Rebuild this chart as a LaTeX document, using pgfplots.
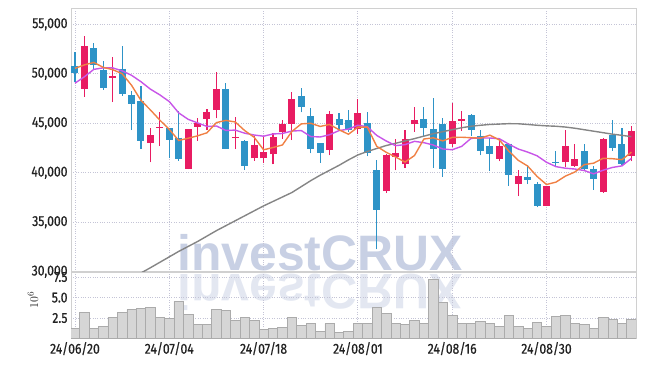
\documentclass[border=0pt]{standalone}
\usepackage{pgfplots}
\pgfplotsset{compat=1.18}
\usepackage{fontspec}
\setmainfont{Fira Sans}[FakeStretch=0.85]
\newfontfamily\tickfont{Fira Sans}[FakeStretch=0.84, FakeBold=0.6]
\newfontfamily\wmfont{Liberation Sans}
\definecolor{cup}{HTML}{E81C62}
\definecolor{cdn}{HTML}{2E93C7}
\definecolor{maf}{HTML}{F08044}
\definecolor{mat}{HTML}{C855E8}
\definecolor{mas}{HTML}{858585}
\definecolor{gridc}{HTML}{C4C4D6}
\definecolor{framec}{HTML}{D0D0D0}
\definecolor{volf}{HTML}{D6D6D6}
\definecolor{vole}{HTML}{ABABAB}
\definecolor{wm}{HTML}{C8D0E4}
\definecolor{tickc}{HTML}{222222}
\newcommand{\cdl}[6]{%
  \addplot[#6, line width=1.1bp, forget plot] coordinates {(#1,#4) (#1,#3)};
  \addplot[#6, line width=7bp, forget plot] coordinates {(#1,#2) (#1,#5)};
}
\pgfplotsset{
  common/.style={
    scale only axis, anchor=south west, width=565bp,
    xmin=-0.42, xmax=59.49,
    xtick={0,10,20,30,40,50},
    scaled ticks=false,
    grid=major, grid style={gridc, dotted, line width=0.8bp},
    major tick length=0pt,
    axis line style={framec, line width=1bp},
    tick label style={font=\tickfont\fontsize{14.5}{16}\selectfont, text=tickc},
  }
}
\begin{document}
\begin{tikzpicture}
\path[use as bounding box] (0bp,0bp) rectangle (645bp,366bp);
\node[anchor=base, text=wm, font=\wmfont\bfseries\fontsize{50}{50}\selectfont, inner sep=0pt] at (320bp,95bp) {investCRUX};
\node[anchor=base, yscale=-1, text=wm, opacity=0.5, font=\wmfont\bfseries\fontsize{50}{50}\selectfont, inner sep=0pt] at (320bp,91bp) {investCRUX};
\begin{axis}[common,
  at={(71bp,94bp)}, height=263bp,
  ymin=29970, ymax=56550,
  xticklabels={},
  ytick={30000,35000,40000,45000,50000,55000},
  yticklabels={{30,000},{35,000},{40,000},{45,000},{50,000},{55,000}},
]
\cdl{0}{50800}{52200}{49200}{50050}{cdn}
\cdl{1}{48500}{53800}{47700}{52800}{cup}
\cdl{2}{52600}{53150}{50450}{50900}{cdn}
\cdl{3}{50400}{51300}{48400}{48600}{cdn}
\cdl{4}{49600}{51650}{47150}{49750}{cup}
\cdl{5}{50500}{52800}{47800}{48000}{cdn}
\cdl{6}{47850}{48300}{44300}{46950}{cdn}
\cdl{7}{47250}{48800}{42450}{43250}{cdn}
\cdl{8}{43000}{44550}{41050}{43800}{cup}
\cdl{9}{44500}{46150}{42700}{44650}{cup}
\cdl{10}{44500}{44550}{41450}{43300}{cdn}
\cdl{11}{43550}{46200}{41200}{41350}{cdn}
\cdl{12}{40400}{44450}{40350}{44400}{cup}
\cdl{13}{44650}{45500}{43250}{45000}{cup}
\cdl{14}{45450}{46400}{44300}{46150}{cup}
\cdl{15}{46350}{50150}{45500}{48450}{cup}
\cdl{16}{48450}{49050}{42400}{42450}{cdn}
\cdl{17}{43500}{45600}{42400}{43650}{cup}
\cdl{18}{43200}{43350}{40300}{40650}{cdn}
\cdl{19}{41450}{43700}{41200}{42800}{cup}
\cdl{20}{41450}{43700}{40950}{42100}{cup}
\cdl{21}{41850}{44050}{40850}{43600}{cup}
\cdl{22}{44150}{45300}{43450}{44900}{cup}
\cdl{23}{44950}{48150}{43300}{47450}{cup}
\cdl{24}{47750}{48600}{46100}{46650}{cdn}
\cdl{25}{45700}{46500}{41950}{42400}{cdn}
\cdl{26}{43000}{43050}{41000}{42000}{cdn}
\cdl{27}{42350}{46200}{41750}{45900}{cup}
\cdl{28}{45400}{46000}{44300}{44800}{cdn}
\cdl{29}{45300}{46350}{44150}{44350}{cdn}
\cdl{30}{44450}{47500}{43950}{46000}{cup}
\cdl{31}{45000}{46150}{41650}{42000}{cdn}
\cdl{32}{40250}{41250}{32250}{36200}{cdn}
\cdl{33}{38150}{41850}{37950}{41800}{cup}
\cdl{34}{41600}{43450}{40250}{41950}{cup}
\cdl{35}{40850}{44350}{40500}{43450}{cup}
\cdl{36}{44900}{46600}{44150}{45300}{cup}
\cdl{37}{45400}{46600}{43650}{44550}{cdn}
\cdl{38}{44400}{47550}{40500}{42400}{cdn}
\cdl{39}{44900}{45500}{39600}{40400}{cdn}
\cdl{40}{42950}{47050}{42600}{45200}{cup}
\cdl{41}{45250}{46250}{44200}{45400}{cup}
\cdl{42}{45800}{45900}{43700}{44300}{cdn}
\cdl{43}{43750}{44350}{41750}{42200}{cdn}
\cdl{44}{42700}{43550}{40200}{41900}{cdn}
\cdl{45}{41400}{43450}{41150}{42750}{cup}
\cdl{46}{42950}{43050}{38700}{39800}{cdn}
\cdl{47}{38850}{40250}{37650}{39650}{cup}
\cdl{48}{39600}{40750}{38850}{39300}{cdn}
\cdl{49}{38850}{39100}{36500}{36650}{cdn}
\cdl{50}{36650}{38700}{36600}{38650}{cup}
\cdl{51}{41100}{42150}{40550}{40950}{cdn}
\cdl{52}{41050}{44300}{40550}{42700}{cup}
\cdl{53}{40700}{42950}{40600}{41350}{cup}
\cdl{54}{42150}{42950}{40250}{40400}{cdn}
\cdl{55}{40400}{40650}{38300}{39400}{cdn}
\cdl{56}{38050}{43550}{38000}{43450}{cup}
\cdl{57}{43850}{45300}{42200}{42500}{cdn}
\cdl{58}{42900}{44550}{40750}{40850}{cdn}
\cdl{59}{41700}{44750}{41150}{44200}{cup}
% long moving average (grey)
\addplot[mas, line width=1.4bp] table {
6 29460
7 29870
8 30400
9 30950
10 31500
11 32050
12 32550
13 33050
14 33600
15 34150
16 34650
17 35150
18 35650
19 36150
20 36650
21 37100
22 37550
23 38000
24 38600
25 39200
26 39750
27 40250
28 40750
29 41300
30 41800
31 42150
32 42450
33 42750
34 42980
35 43220
36 43450
37 43700
38 43950
39 44150
40 44350
41 44550
42 44700
43 44800
44 44880
45 44920
46 44960
47 44950
48 44880
49 44800
50 44740
51 44700
52 44620
53 44500
54 44350
55 44200
56 44050
57 43900
58 43780
59 43650
};
% 10-day moving average (purple)
\addplot[mat, line width=1.4bp] table {
0 49050
1 49700
2 50450
3 50600
4 50600
5 50300
6 49850
7 49200
8 48450
9 47870
10 47195
11 46050
12 45400
13 45040
14 44680
15 44725
16 44275
17 44310
18 43995
19 43815
20 43695
21 43920
22 43970
23 44215
24 44265
25 43660
26 43615
27 43845
28 44260
29 44415
30 44805
31 44645
32 43775
33 43210
34 42740
35 42845
36 43175
37 43040
38 42800
39 42405
40 42325
41 42665
42 43475
43 43515
44 43510
45 43440
46 42890
47 42400
48 42090
49 41715
50 41060
51 40620
52 40460
53 40375
54 40225
55 39890
56 40255
57 40540
58 40695
59 41450
};
% 5-day moving average (orange)
\addplot[maf, line width=1.4bp] table {
0 50550
1 50900
2 51150
3 50650
4 50420
5 50010
6 48840
7 47310
8 46350
9 45320
10 44380
11 43260
12 43490
13 43730
14 44040
15 45070
16 45290
17 45130
18 44260
19 43590
20 42320
21 42550
22 42810
23 44170
24 44940
25 45000
26 44680
27 44880
28 44350
29 43890
30 44610
31 44610
32 42670
33 42070
34 41590
35 41080
36 41740
37 43410
38 43530
39 43220
40 43570
41 43590
42 43540
43 43500
44 43800
45 43310
46 42190
47 41260
48 40680
49 39630
50 38810
51 39050
52 39660
53 40070
54 40820
55 40970
56 41460
57 41420
58 41320
59 42080
};
\end{axis}
\begin{axis}[common,
  at={(71bp,27.5bp)}, height=65.5bp,
  ymin=0, ymax=8,
  xticklabels={24/06/20,24/07/04,24/07/18,24/08/01,24/08/16,24/08/30},
  ytick={2.5,5,7.5}, yticklabels={2.5,5.0,7.5},
]
\addplot[ybar, bar width=1, bar shift=0pt, fill=volf, draw=vole, line width=0.6bp] table {
0 1.26
1 3.15
2 1.24
3 1.47
4 2.54
5 3.15
6 3.54
7 3.64
8 3.76
9 2.54
10 2.42
11 4.52
12 2.93
13 1.71
14 1.71
15 3.56
16 3.43
17 2.22
18 2.54
19 2.22
20 1.10
21 1.24
22 1.36
23 2.54
24 1.61
25 1.81
26 0.87
27 1.81
28 0.76
29 0.89
30 1.81
31 1.81
32 3.76
33 3.05
34 1.83
35 1.71
36 2.22
37 1.83
38 7.21
39 4.45
40 2.83
41 1.83
42 1.83
43 2.09
44 1.81
45 1.48
46 2.83
47 1.48
48 1.22
49 1.93
50 1.48
51 2.70
52 2.83
53 1.81
54 1.69
55 1.28
56 2.54
57 2.34
58 1.81
59 2.34
};
\end{axis}
\node[rotate=90, text=tickc, font=\fontsize{13}{15}\selectfont] at (33bp,66bp) {$10^{6}$};
\end{tikzpicture}
\end{document}
